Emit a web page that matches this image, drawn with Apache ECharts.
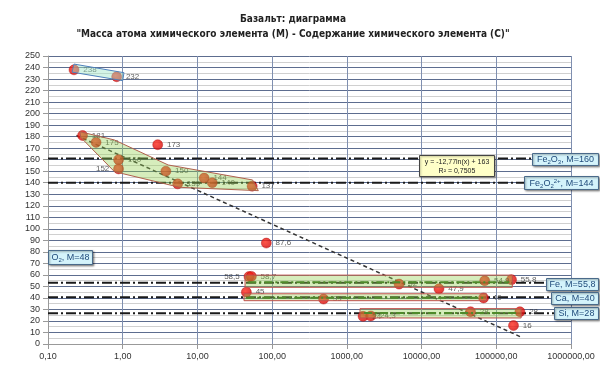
<!DOCTYPE html>
<html><head><meta charset="utf-8">
<script src="https://cdn.jsdelivr.net/npm/echarts@6/dist/echarts.min.js"></script>
<style>html,body{margin:0;padding:0;background:#fff}#c{width:600px;height:384px}</style>
</head><body><div id="c"></div>
<script>
// Points: content (C, log scale) and atomic mass (M)
const pointsX = [0.223, 0.83, 0.29, 0.44, 0.88, 0.88, 2.94, 3.78, 5.44, 12.3, 15.8, 54, 83.6, 49, 52.7, 45.2, 488, 5000, 17100, 70000, 160000, 67600, 45200, 207000, 1650, 2090, 170000];
const pointsY = [238, 232, 181, 175, 160, 152, 173, 150, 139, 144, 140, 137, 87.6, 58.5, 58.7, 45, 39, 52, 47.9, 54.9, 55.8, 40, 28, 28, 24, 24.3, 16];
const leftLabelIdx = [5, 13];
// Reference lines (y levels as drawn) and where each ends (x)
const refLineY = [161, 140, 53.2, 40.5, 26.6];
const refLineEndX = [300000, 240000, 450000, 560000, 620000];
// Trend line endpoints y = -12,77 ln(x) + 163
const trendPts = [[0.24, 181], [215000, 6]];
// Group polygons (data coordinates)
const group1 = [[0.223, 243], [1.04, 235.5], [1.0, 228.6], [0.21, 236]];
const group2 = [[0.267, 184.3], [0.775, 177.1], [4.06, 155.4], [54.7, 142.4], [65.3, 133.1], [5.78, 136], [0.775, 149.6], [0.274, 179.4]];
// Bands: [xFrom, xTo, yFrom, yTo]
const bandFe = [43.4, 164000, 49.2, 59.8];
const bandCa = [42, 74000, 37.6, 43.6];
const bandSi = [1500, 215000, 22.6, 30.7];
// Band centre lines: [xFrom, xTo, y]
const centreLines = [[48, 150000, 53.5], [45, 68000, 40.2], [1700, 200000, 27]];

const chart = echarts.init(document.getElementById('c'), null, {renderer: 'canvas'});
const fmt = v => String(v).replace('.', ',');

function poly(pts, fill, stroke, z) {
  return {
    type: 'custom', coordinateSystem: 'cartesian2d', z: z, silent: true,
    data: [pts[0]],
    renderItem: function (params, api) {
      return {type: 'polygon', shape: {points: pts.map(p => api.coord(p))},
        style: {fill: fill, stroke: stroke, lineWidth: 1}};
    }
  };
}
function band(b) {
  return poly([[b[0], b[2]], [b[1], b[2]], [b[1], b[3]], [b[0], b[3]]], 'rgba(146,208,80,0.38)', '#c0504d', 4);
}

const series = [];
refLineY.forEach((y, i) => series.push({
  type: 'line', z: 2, symbol: 'none', silent: true,
  data: [[0.1, y], [refLineEndX[i], y]],
  lineStyle: {color: '#1a1a1a', width: 2, type: [10, 3, 2, 3]}
}));
series.push({
  type: 'line', z: 2, symbol: 'none', silent: true, data: trendPts,
  lineStyle: {color: '#333', width: 1.5, type: [4, 3]}
});
series.push({
  type: 'scatter', z: 3, symbolSize: 10,
  data: pointsX.map((x, i) => ({
    value: [x, pointsY[i]],
    label: {position: leftLabelIdx.includes(i) ? 'left' : 'right'}
  })),
  itemStyle: {color: new echarts.graphic.RadialGradient(0.4, 0.4, 0.6, [{offset: 0, color: '#ff2a1a'}, {offset: 1, color: '#d40a0a'}]), borderColor: '#b00808', borderWidth: 0.5},
  label: {show: true, formatter: p => fmt(p.value[1]), fontSize: 8, color: '#333', distance: 4, fontFamily: 'Liberation Sans'}
});
series.push(poly(group1, 'rgba(160,230,200,0.45)', '#4f81bd', 4));
series.push(poly(group2, 'rgba(146,208,80,0.38)', '#b0604d', 4));
series.push(band(bandFe));
series.push(band(bandCa));
series.push(band(bandSi));
centreLines.forEach(c => series.push({
  type: 'line', z: 5, symbol: 'none', silent: true,
  data: [[c[0], c[2]], [c[1], c[2]]],
  lineStyle: {color: '#4f8a2a', width: 2, type: [8, 3, 2, 3]}
}));

const TC = '#1f4a7a';
const richSub = {
  n: {fontSize: 9, fontFamily: 'Liberation Sans', color: TC},
  s: {fontSize: 6, fontFamily: 'Liberation Sans', color: TC, padding: [5, 0, 0, 0]},
  p: {fontSize: 6, fontFamily: 'Liberation Sans', color: TC, padding: [0, 0, 5, 0]}
};
function boxText(text, x, y, w, h) {
  return {
    type: 'group', left: x, top: y, z: 100,
    children: [
      {type: 'rect', z: 100, shape: {x: 0, y: 0, width: w, height: h},
        style: {fill: '#d4f3fb', stroke: '#4a6a8a', lineWidth: 1, shadowBlur: 2, shadowOffsetX: 1, shadowOffsetY: 1, shadowColor: 'rgba(0,0,0,0.4)'}},
      {type: 'text', z: 101, x: w / 2, y: h / 2 + 0.5, style: {text: text, align: 'center', verticalAlign: 'middle', fill: TC, font: '9px "Liberation Sans", sans-serif', rich: richSub}}
    ]
  };
}

chart.setOption({
  animation: false,
  backgroundColor: '#fff',
  title: {
    text: 'Базальт: диаграмма\n"Масса атома химического элемента (М) - Содержание химического элемента (С)"',
    left: 288, top: 7, textAlign: 'center',
    textStyle: {fontSize: 10, fontWeight: 'bold', color: '#222', lineHeight: 15, fontFamily: 'DejaVu Sans Condensed, Liberation Sans'}
  },
  grid: {left: 48, right: 29, top: 56, bottom: 40},
  xAxis: {
    type: 'log', logBase: 10, min: 0.1, max: 1000000,
    axisLine: {lineStyle: {color: '#999'}},
    axisTick: {show: true, lineStyle: {color: '#999'}},
    axisLabel: {formatter: v => Number(v).toFixed(2).replace('.', ','), fontSize: 9, color: '#333', fontFamily: 'Liberation Sans'},
    splitLine: {show: true, lineStyle: {color: '#7f8fb0', width: 1}},
    minorTick: {show: false}, minorSplitLine: {show: false}
  },
  yAxis: {
    type: 'value', min: 0, max: 250, interval: 10,
    axisLine: {show: true, lineStyle: {color: '#999'}},
    axisTick: {show: true, lineStyle: {color: '#999'}},
    axisLabel: {fontSize: 9, color: '#333', fontFamily: 'Liberation Sans'},
    splitLine: {lineStyle: {color: '#5d6d8f', width: 1}},
    minorTick: {show: false, splitNumber: 2},
    minorSplitLine: {show: true, lineStyle: {color: '#d0d0d0'}}
  },
  series: series,
  graphic: [
    boxText('{n|Fe}{s|2}{n|O}{s|3}{n|, M=160}', 532, 153, 66, 12),
    boxText('{n|Fe}{s|2}{n|O}{s|2}{p|2+}{n|, M=144}', 524, 176, 74, 13),
    boxText('{n|Fe, M=55,8}', 546, 278, 52, 12),
    boxText('{n|Ca, M=40}', 551, 292, 47, 12),
    boxText('{n|Si, M=28}', 554, 307, 44, 12),
    boxText('{n|O}{s|2}{n|, M=48}', 48, 250, 44, 14),
    {type: 'group', left: 419, top: 155, z: 100, children: [
      {type: 'rect', z: 100, shape: {x: 0, y: 0, width: 75, height: 21}, style: {fill: '#ffffc8', stroke: '#444', lineWidth: 1, shadowBlur: 2, shadowOffsetX: 1, shadowOffsetY: 1, shadowColor: 'rgba(0,0,0,0.3)'}},
      {type: 'text', z: 101, x: 37.5, y: 2, style: {text: 'y = -12,77ln(x) + 163\nR² = 0,7505', align: 'center', fill: '#222', font: '7px "Liberation Sans", sans-serif', lineHeight: 9}}
    ]}
  ]
});
</script></body></html>
